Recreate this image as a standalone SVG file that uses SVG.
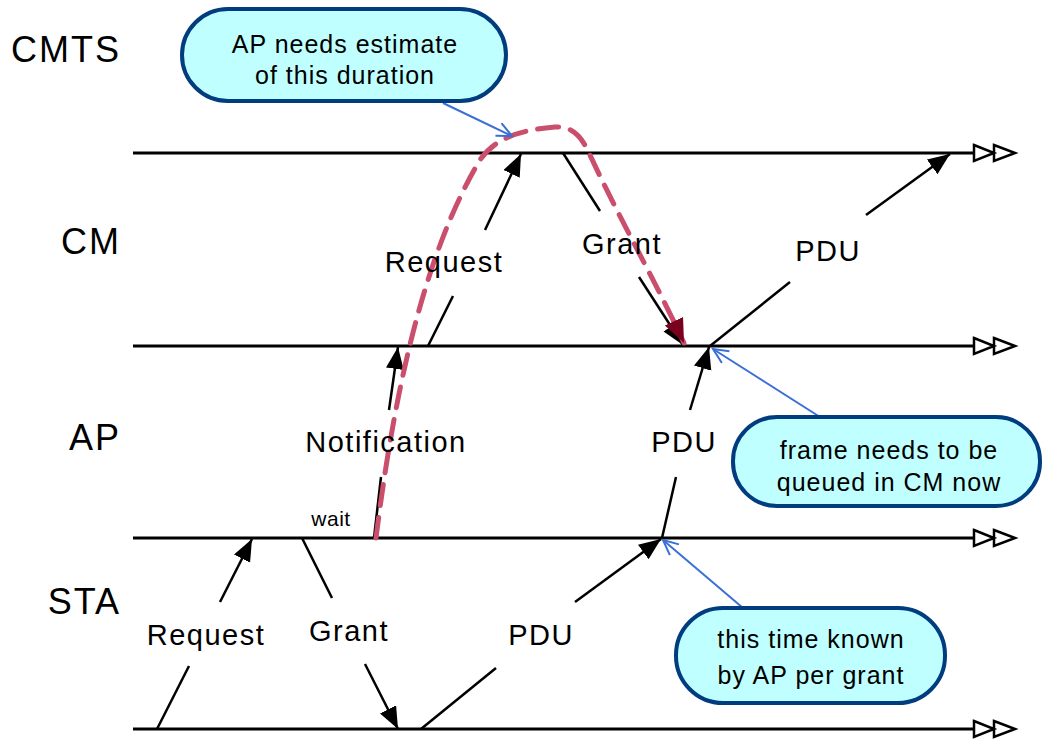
<svg xmlns="http://www.w3.org/2000/svg" width="1046" height="744" viewBox="0 0 1046 744">
<style>
.lane{stroke:#000;stroke-width:3;fill:none}
.msg{stroke:#000;stroke-width:2.5;fill:none}
.lbl{font-family:"Liberation Sans",Arial,sans-serif;fill:#000}
.big{font-size:36px;text-anchor:end;letter-spacing:2px}
.mid{font-size:29px;text-anchor:middle;letter-spacing:1.5px}
.co{font-size:25px;text-anchor:middle;letter-spacing:1px}
.pill{fill:#bfffff;stroke:#003c7e;stroke-width:4}
.ptr{stroke:#3a6fd8;stroke-width:2;fill:none}
.hd{fill:#fff;stroke:#000;stroke-width:2.5}
</style>
<defs>
<marker id="ah" markerUnits="userSpaceOnUse" markerWidth="24" markerHeight="20" refX="22" refY="9" orient="auto">
<path d="M0,0 L22,9 L0,18 Z" fill="#000"/>
</marker>
<marker id="oh" markerUnits="userSpaceOnUse" markerWidth="20" markerHeight="20" refX="16" refY="8" orient="auto">
<path d="M1,1 L16,8 L1,15" fill="none" stroke="#3a6fd8" stroke-width="2"/>
</marker>
<marker id="rh" markerUnits="userSpaceOnUse" markerWidth="28" markerHeight="22" refX="24" refY="10" orient="auto">
<path d="M0,0 L24,10 L0,20 Z" fill="#7a0020"/>
</marker>
</defs>
<g id="lanes">
<g id="lane-cmts"><text class="lbl big" x="121" y="62">CMTS</text><line class="lane" x1="133" y1="153" x2="975" y2="153"/><path class="hd" d="M974,145 L994,153 L974,161 Z M994,145 L1015,153 L994,161 Z"/></g>
<g id="lane-cm"><text class="lbl big" x="121" y="254">CM</text><line class="lane" x1="133" y1="346" x2="975" y2="346"/><path class="hd" d="M974,338 L994,346 L974,354 Z M994,338 L1015,346 L994,354 Z"/></g>
<g id="lane-ap"><text class="lbl big" x="121" y="450">AP</text><line class="lane" x1="133" y1="538" x2="975" y2="538"/><path class="hd" d="M974,530 L994,538 L974,546 Z M994,530 L1015,538 L994,546 Z"/></g>
<g id="lane-sta"><text class="lbl big" x="121" y="614">STA</text><line class="lane" x1="133" y1="729" x2="975" y2="729"/><path class="hd" d="M974,721 L994,729 L974,737 Z M994,721 L1015,729 L994,737 Z"/></g>
</g>
<g id="connectors">
<line class="msg" x1="157" y1="729" x2="189" y2="666"/>
<line class="msg" x1="220" y1="602" x2="252" y2="539" marker-end="url(#ah)"/>
<line class="msg" x1="302" y1="538" x2="332" y2="598"/>
<line class="msg" x1="365" y1="664" x2="398" y2="729" marker-end="url(#ah)"/>
<line class="msg" x1="374" y1="538" x2="381" y2="477"/>
<line class="msg" x1="389" y1="410" x2="398" y2="347" marker-end="url(#ah)"/>
<line class="msg" x1="428" y1="346" x2="453" y2="296"/>
<line class="msg" x1="485" y1="230" x2="521" y2="154" marker-end="url(#ah)"/>
<line class="msg" x1="563" y1="153" x2="600" y2="211"/>
<line class="msg" x1="639" y1="277" x2="683" y2="345" marker-end="url(#ah)"/>
<line class="msg" x1="421" y1="729" x2="496" y2="668"/>
<line class="msg" x1="575" y1="602" x2="661" y2="539" marker-end="url(#ah)"/>
<line class="msg" x1="662" y1="538" x2="676" y2="477"/>
<line class="msg" x1="690" y1="410" x2="709" y2="347" marker-end="url(#ah)"/>
<line class="msg" x1="710" y1="346" x2="790" y2="282"/>
<line class="msg" x1="866" y1="215" x2="950" y2="154" marker-end="url(#ah)"/>
<path d="M376,538 C392,410 420,260 480,160 C495,138 520,130 555,127 C575,126 583,140 590,155 C620,220 655,280 684,343" fill="none" stroke="#c94f6d" stroke-width="5" stroke-dasharray="21,12" stroke-linecap="round" marker-end="url(#rh)"/>
<line class="ptr" x1="443" y1="103" x2="512" y2="136" marker-end="url(#oh)"/>
<line class="ptr" x1="820" y1="417" x2="713" y2="349" marker-end="url(#oh)"/>
<line class="ptr" x1="743" y1="608" x2="663" y2="540" marker-end="url(#oh)"/>
</g>
<g id="labels">
<text class="lbl mid" x="206" y="645">Request</text>
<text class="lbl mid" x="349" y="641">Grant</text>
<text class="lbl mid" x="386" y="452">Notification</text>
<text class="lbl" x="331" y="526" font-size="21" letter-spacing="0.5" text-anchor="middle">wait</text>
<text class="lbl mid" x="444" y="272">Request</text>
<text class="lbl mid" x="622" y="254">Grant</text>
<text class="lbl mid" x="541" y="645">PDU</text>
<text class="lbl mid" x="684" y="452">PDU</text>
<text class="lbl mid" x="828" y="261">PDU</text>
</g>
<g id="callout-top"><rect class="pill" x="182" y="9" width="324" height="92" rx="46"/><text class="lbl co" x="345" y="53">AP needs estimate</text><text class="lbl co" x="345" y="84">of this duration</text></g>
<g id="callout-right"><rect class="pill" x="733" y="417" width="307" height="89" rx="44"/><text class="lbl co" x="889" y="459">frame needs to be</text><text class="lbl co" x="889" y="491">queued in CM now</text></g>
<g id="callout-bottom"><rect class="pill" x="676" y="608" width="269" height="95" rx="47"/><text class="lbl co" x="811" y="648">this time known</text><text class="lbl co" x="811" y="684">by AP per grant</text></g>
</svg>
